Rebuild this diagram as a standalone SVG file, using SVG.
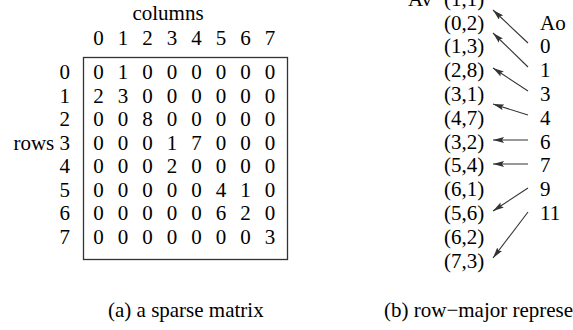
<svg xmlns="http://www.w3.org/2000/svg" width="573" height="330" viewBox="0 0 573 330" font-family="'Liberation Serif', 'Times New Roman', Times, 'DejaVu Serif', serif">
<style>
text{font-family:'Liberation Serif','Times New Roman',Times,'DejaVu Serif',serif;font-size:21px;fill:#000}
.c{text-anchor:middle}
.e{text-anchor:end}
.box{fill:none;stroke:#333;stroke-width:1.3}
.arr{stroke:#333;stroke-width:1.1;fill:none;marker-end:url(#ah)}
</style>
<defs>
<marker id="ah" viewBox="0 0 11 6" refX="11" refY="3" markerWidth="11" markerHeight="6" markerUnits="userSpaceOnUse" orient="auto">
<path d="M0,0 L11,3 L0,6 L2,3 z" fill="#333"/>
</marker>
</defs>
<g id="matrix">
<text class="c" x="168" y="20">columns</text>
<g id="col-header">
<text class="c" x="98.5" y="45">0</text><text class="c" x="123" y="45">1</text><text class="c" x="147.5" y="45">2</text><text class="c" x="172" y="45">3</text><text class="c" x="196.5" y="45">4</text><text class="c" x="221" y="45">5</text><text class="c" x="245.5" y="45">6</text><text class="c" x="270" y="45">7</text>
</g>
<g id="row-labels">
<text class="e" x="70" y="79">0</text>
<text class="e" x="70" y="102.5">1</text>
<text class="e" x="70" y="126">2</text>
<text class="e" x="70" y="149.5">rows 3</text>
<text class="e" x="70" y="173">4</text>
<text class="e" x="70" y="196.5">5</text>
<text class="e" x="70" y="220">6</text>
<text class="e" x="70" y="243.5">7</text>
</g>
<rect class="box" x="83.5" y="57.5" width="204" height="202"/>
<g id="cells">
<text x="98.5" y="79" class="c">0</text><text x="123" y="79" class="c">1</text><text x="147.5" y="79" class="c">0</text><text x="172" y="79" class="c">0</text><text x="196.5" y="79" class="c">0</text><text x="221" y="79" class="c">0</text><text x="245.5" y="79" class="c">0</text><text x="270" y="79" class="c">0</text>
<text x="98.5" y="102.5" class="c">2</text><text x="123" y="102.5" class="c">3</text><text x="147.5" y="102.5" class="c">0</text><text x="172" y="102.5" class="c">0</text><text x="196.5" y="102.5" class="c">0</text><text x="221" y="102.5" class="c">0</text><text x="245.5" y="102.5" class="c">0</text><text x="270" y="102.5" class="c">0</text>
<text x="98.5" y="126" class="c">0</text><text x="123" y="126" class="c">0</text><text x="147.5" y="126" class="c">8</text><text x="172" y="126" class="c">0</text><text x="196.5" y="126" class="c">0</text><text x="221" y="126" class="c">0</text><text x="245.5" y="126" class="c">0</text><text x="270" y="126" class="c">0</text>
<text x="98.5" y="149.5" class="c">0</text><text x="123" y="149.5" class="c">0</text><text x="147.5" y="149.5" class="c">0</text><text x="172" y="149.5" class="c">1</text><text x="196.5" y="149.5" class="c">7</text><text x="221" y="149.5" class="c">0</text><text x="245.5" y="149.5" class="c">0</text><text x="270" y="149.5" class="c">0</text>
<text x="98.5" y="173" class="c">0</text><text x="123" y="173" class="c">0</text><text x="147.5" y="173" class="c">0</text><text x="172" y="173" class="c">2</text><text x="196.5" y="173" class="c">0</text><text x="221" y="173" class="c">0</text><text x="245.5" y="173" class="c">0</text><text x="270" y="173" class="c">0</text>
<text x="98.5" y="196.5" class="c">0</text><text x="123" y="196.5" class="c">0</text><text x="147.5" y="196.5" class="c">0</text><text x="172" y="196.5" class="c">0</text><text x="196.5" y="196.5" class="c">0</text><text x="221" y="196.5" class="c">4</text><text x="245.5" y="196.5" class="c">1</text><text x="270" y="196.5" class="c">0</text>
<text x="98.5" y="220" class="c">0</text><text x="123" y="220" class="c">0</text><text x="147.5" y="220" class="c">0</text><text x="172" y="220" class="c">0</text><text x="196.5" y="220" class="c">0</text><text x="221" y="220" class="c">6</text><text x="245.5" y="220" class="c">2</text><text x="270" y="220" class="c">0</text>
<text x="98.5" y="243.5" class="c">0</text><text x="123" y="243.5" class="c">0</text><text x="147.5" y="243.5" class="c">0</text><text x="172" y="243.5" class="c">0</text><text x="196.5" y="243.5" class="c">0</text><text x="221" y="243.5" class="c">0</text><text x="245.5" y="243.5" class="c">0</text><text x="270" y="243.5" class="c">3</text>
</g>
<text x="108" y="317">(a) a sparse matrix</text>
</g>
<g id="av">
<text x="408" y="5.7">Av</text>
<text x="444" y="5.7">(1,1)</text>
<text x="444" y="29.5">(0,2)</text>
<text x="444" y="53.3">(1,3)</text>
<text x="444" y="77.1">(2,8)</text>
<text x="444" y="100.9">(3,1)</text>
<text x="444" y="124.7">(4,7)</text>
<text x="444" y="148.5">(3,2)</text>
<text x="444" y="172.3">(5,4)</text>
<text x="444" y="196.1">(6,1)</text>
<text x="444" y="219.9">(5,6)</text>
<text x="444" y="243.7">(6,2)</text>
<text x="444" y="267.5">(7,3)</text>
</g>
<g id="ao">
<text x="540" y="29.5">Ao</text>
<text x="540" y="53.3">0</text>
<text x="540" y="77.1">1</text>
<text x="540" y="100.9">3</text>
<text x="540" y="124.7">4</text>
<text x="540" y="148.5">6</text>
<text x="540" y="172.3">7</text>
<text x="540" y="196.1">9</text>
<text x="540" y="219.9">11</text>
</g>
<g id="connectors">
<line class="arr" x1="528" y1="43" x2="493" y2="10"/>
<line class="arr" x1="528" y1="67" x2="493" y2="33"/>
<line class="arr" x1="528" y1="91" x2="493" y2="68"/>
<line class="arr" x1="528" y1="115" x2="493" y2="104"/>
<line class="arr" x1="528" y1="140" x2="493" y2="140"/>
<line class="arr" x1="528" y1="164" x2="493" y2="164"/>
<line class="arr" x1="528" y1="188" x2="493" y2="211"/>
<line class="arr" x1="528" y1="212" x2="493" y2="258"/>
</g>
<text x="384" y="317">(b) row−major representation</text>
</svg>
